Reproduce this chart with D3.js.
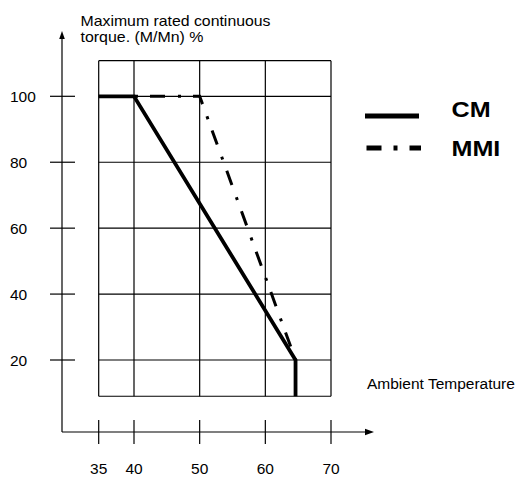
<!DOCTYPE html>
<html>
<head>
<meta charset="utf-8">
<script src="https://cdn.jsdelivr.net/npm/d3@7"></script>
<style>
  html, body { margin: 0; padding: 0; background: #fff; }
  svg { display: block; font-family: "Liberation Sans", Arial, sans-serif; }
</style>
</head>
<body>
<svg id="chart" width="523" height="478"></svg>
<script>
// ---- data ----
const xTicks = [35, 40, 50, 60, 70];
const yTicks = [20, 40, 60, 80, 100];
const cmTemp = [35, 40, 64.6, 64.6];
const cmTorque = [100, 100, 20, 9];
const mmiTemp = [40, 50, 64.6];
const mmiTorque = [100, 100, 20];
const seriesNames = ["CM", "MMI"];
const yTitle = ["Maximum rated continuous", "torque. (M/Mn) %"];
const xTitle = "Ambient Temperature";
const gridTorqueRange = [9, 110.8];

// ---- layout ----
const svg = d3.select("#chart");
const x = d3.scaleLinear().domain([35, 40, 70]).range([98.7, 134, 331]);
const y = d3.scaleLinear().domain([20, 100]).range([360, 96.3]);
const axisX = 62, axisY = 432;
const gTop = y(gridTorqueRange[1]), gBot = y(gridTorqueRange[0]);
const gLeft = x(xTicks[0]), gRight = x(xTicks[xTicks.length - 1]);

// grid
const grid = svg.append("g").attr("stroke", "#000").attr("stroke-width", 1.2).attr("fill", "none");
xTicks.forEach(v => grid.append("line").attr("x1", x(v)).attr("x2", x(v)).attr("y1", gTop).attr("y2", gBot));
yTicks.forEach(v => grid.append("line").attr("x1", gLeft).attr("x2", gRight).attr("y1", y(v)).attr("y2", y(v)));
grid.append("line").attr("x1", gLeft).attr("x2", gRight).attr("y1", gTop).attr("y2", gTop);
grid.append("line").attr("x1", gLeft).attr("x2", gRight).attr("y1", gBot).attr("y2", gBot);

// axes
const ax = svg.append("g").attr("stroke", "#000").attr("stroke-width", 1.2);
ax.append("line").attr("x1", axisX).attr("x2", axisX).attr("y1", axisY).attr("y2", 36);
ax.append("line").attr("x1", axisX).attr("x2", 367).attr("y1", axisY).attr("y2", axisY);
svg.append("path").attr("d", `M${axisX},31 L${axisX - 2.8},39 L${axisX + 2.8},39 Z`).attr("fill", "#000");
svg.append("path").attr("d", `M374,${axisY} L365,${axisY - 3.3} L365,${axisY + 3.3} Z`).attr("fill", "#000");

// ticks
yTicks.forEach(v => ax.append("line").attr("x1", axisX - 12).attr("x2", axisX + 13).attr("y1", y(v)).attr("y2", y(v)));
xTicks.forEach(v => ax.append("line").attr("x1", x(v)).attr("x2", x(v)).attr("y1", axisY - 12).attr("y2", axisY + 12));

// tick labels
svg.append("g").selectAll("text").data(yTicks).join("text")
  .attr("x", 10).attr("y", d => y(d) + 6).attr("font-size", 15.5).attr("fill", "#000")
  .text(d => d);
svg.append("g").selectAll("text").data(xTicks).join("text")
  .attr("x", d => x(d)).attr("y", 474).attr("text-anchor", "middle").attr("font-size", 15.5).attr("fill", "#000")
  .text(d => d);

// titles
const titleWidths = [190, 123];
svg.append("g").selectAll("text").data(yTitle).join("text")
  .attr("x", 80.5).attr("y", (d, i) => 26 + i * 16).attr("font-size", 14.5).attr("fill", "#000")
  .attr("textLength", (d, i) => titleWidths[i]).attr("lengthAdjust", "spacingAndGlyphs")
  .text(d => d);
svg.append("text").attr("x", 367).attr("y", 389).attr("font-size", 15.5).attr("fill", "#000").text(xTitle);

// series
const line = d3.line().x(d => x(d[0])).y(d => y(d[1]));
const cm = cmTemp.map((t, i) => [t, cmTorque[i]]);
const mmi = mmiTemp.map((t, i) => [t, mmiTorque[i]]);
svg.append("path").datum(mmi).attr("d", line).attr("fill", "none").attr("stroke", "#000")
  .attr("stroke-width", 3).attr("stroke-dasharray", "15,13,3,12").attr("stroke-dashoffset", 27);
svg.append("path").datum(cm).attr("d", line).attr("fill", "none").attr("stroke", "#000")
  .attr("stroke-width", 3.8).attr("stroke-linejoin", "miter");

// legend
const lg = svg.append("g");
lg.append("line").attr("x1", 365).attr("x2", 419).attr("y1", 116).attr("y2", 116)
  .attr("stroke", "#000").attr("stroke-width", 5);
lg.append("line").attr("x1", 366.5).attr("x2", 421).attr("y1", 148).attr("y2", 148)
  .attr("stroke", "#000").attr("stroke-width", 5).attr("stroke-dasharray", "15,12,4,12");
lg.selectAll("text").data(seriesNames).join("text")
  .attr("transform", (d, i) => `translate(451.5,${116.7 + i * 39}) scale(1.17,1)`)
  .attr("font-size", 21.5).attr("font-weight", "bold").attr("fill", "#000")
  .text(d => d);
</script>
</body>
</html>
